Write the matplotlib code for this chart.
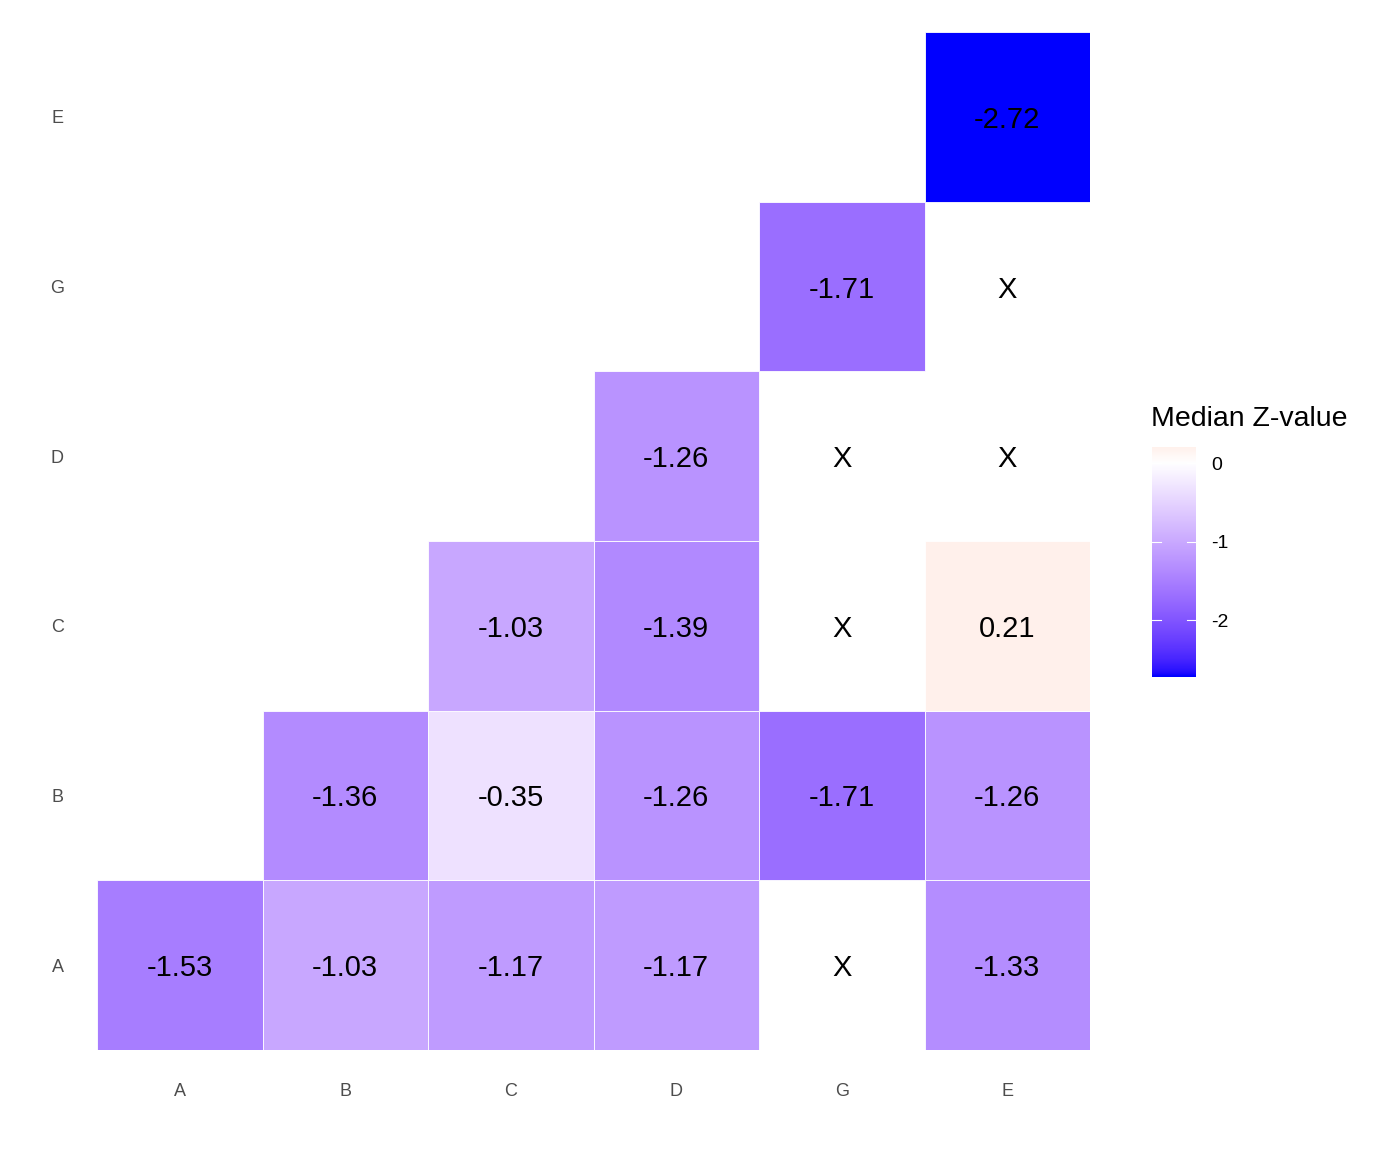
import numpy as np
import matplotlib
matplotlib.use("Agg")
import matplotlib.pyplot as plt
from matplotlib.colors import ListedColormap, Normalize
from matplotlib.patches import Rectangle

plt.rcParams["font.family"] = ["Liberation Sans", "DejaVu Sans"]

# categories (same order on both axes, y from bottom to top)
x_labels = ["A", "B", "C", "D", "G", "E"]
y_labels = ["A", "B", "C", "D", "G", "E"]

# median z-values, one row per y category; nan = "X" (no value)
# only cells with column >= row are drawn
row_A = [-1.53, -1.03, -1.17, -1.17, np.nan, -1.33]
row_B = [np.nan, -1.36, -0.35, -1.26, -1.71, -1.26]
row_C = [np.nan, np.nan, -1.03, -1.39, np.nan, 0.21]
row_D = [np.nan, np.nan, np.nan, -1.26, np.nan, np.nan]
row_G = [np.nan, np.nan, np.nan, np.nan, -1.71, np.nan]
row_E = [np.nan, np.nan, np.nan, np.nan, np.nan, -2.72]
values = np.array([row_A, row_B, row_C, row_D, row_G, row_E])

cbar_ticks = [0, -1, -2]


# --- gradient2 style colour ramp (blue - white - red, interpolated in Lab)
def srgb_to_lab(rgb):
    rgb = np.asarray(rgb, float)
    lin = np.where(rgb <= 0.04045, rgb / 12.92, ((rgb + 0.055) / 1.055) ** 2.4)
    M = np.array([[0.4124, 0.3576, 0.1805],
                  [0.2126, 0.7152, 0.0722],
                  [0.0193, 0.1192, 0.9505]])
    xyz = M @ lin / np.array([0.95047, 1.0, 1.08883])
    f = np.where(xyz > 0.008856, np.cbrt(xyz), 7.787 * xyz + 16 / 116)
    return np.array([116 * f[1] - 16, 500 * (f[0] - f[1]), 200 * (f[1] - f[2])])


def lab_to_srgb(lab):
    L, a, b = lab
    fy = (L + 16) / 116
    fx = fy + a / 500
    fz = fy - b / 200
    f = np.array([fx, fy, fz])
    xyz = np.where(f ** 3 > 0.008856, f ** 3, (f - 16 / 116) / 7.787)
    xyz = xyz * np.array([0.95047, 1.0, 1.08883])
    Minv = np.array([[3.2406, -1.5372, -0.4986],
                     [-0.9689, 1.8758, 0.0415],
                     [0.0557, -0.2040, 1.0570]])
    lin = Minv @ xyz
    rgb = np.where(lin <= 0.0031308, 12.92 * lin, 1.055 * np.clip(lin, 0, None) ** (1 / 2.4) - 0.055)
    return np.clip(rgb, 0, 1)


blue = srgb_to_lab([0, 0, 1])
white = srgb_to_lab([1, 1, 1])
red = srgb_to_lab([1, 0, 0])
cols = []
for t in np.linspace(0, 1, 512):
    if t < 0.5:
        lab = blue + (white - blue) * (t / 0.5)
    else:
        lab = white + (red - white) * ((t - 0.5) / 0.5)
    cols.append(lab_to_srgb(lab))
cmap = ListedColormap(cols)

vmin = np.nanmin(values)
vmax = np.nanmax(values)
span = max(abs(vmin), abs(vmax))
norm = Normalize(vmin=-span, vmax=span)  # midpoint at 0

W, H = 1382, 1152
fig = plt.figure(figsize=(W / 100, H / 100), dpi=100)
ax = fig.add_axes([97 / W, 1 - 1050 / H, (1090 - 97) / W, (1050 - 32) / H])

n = len(x_labels)
for i in range(n):
    for j in range(n):
        if j < i:
            continue
        v = values[i, j]
        if np.isnan(v):
            ax.text(j, i, "X", ha="center", va="center_baseline", fontsize=21, color="black")
            continue
        ax.add_patch(Rectangle((j - 0.5, i - 0.5), 1, 1, facecolor=cmap(norm(v)),
                               edgecolor="white", linewidth=0.6))
        ax.text(j, i, f"{v:.2f}", ha="center", va="center_baseline", fontsize=21, color="black")

ax.set_xlim(-0.5, n - 0.5)
ax.set_ylim(-0.5, n - 0.5)
ax.set_xticks(range(n))
ax.set_xticklabels(x_labels)
ax.set_yticks(range(n))
ax.set_yticklabels(y_labels)
ax.tick_params(length=0, labelsize=13, labelcolor="#4D4D4D")
ax.tick_params(axis="x", pad=24)
ax.tick_params(axis="y", pad=24)
for s in ax.spines.values():
    s.set_visible(False)

# colour bar
cax = fig.add_axes([1152 / W, 1 - 677 / H, 44 / W, 230 / H])
grad = np.linspace(vmin, vmax, 300).reshape(-1, 1)
cax.imshow(grad, cmap=cmap, norm=norm, aspect="auto", origin="lower",
           extent=[0, 1, vmin, vmax])
cax.set_xlim(0, 1)
cax.set_ylim(vmin, vmax)
cax.set_xticks([])
for t in cbar_ticks:
    cax.plot([0, 0.2], [t, t], color="white", lw=0.8)
    cax.plot([0.8, 1], [t, t], color="white", lw=0.8)
cax.yaxis.tick_right()
cax.set_yticks(cbar_ticks)
cax.set_yticklabels([str(t) for t in cbar_ticks])
cax.tick_params(length=0, labelsize=14, pad=11, labelcolor="black")
for s in cax.spines.values():
    s.set_visible(False)
fig.text(1151 / W, 1 - 419 / H, "Median Z-value", fontsize=20.5, ha="left", va="center")

fig.savefig("out.png", dpi=100)
